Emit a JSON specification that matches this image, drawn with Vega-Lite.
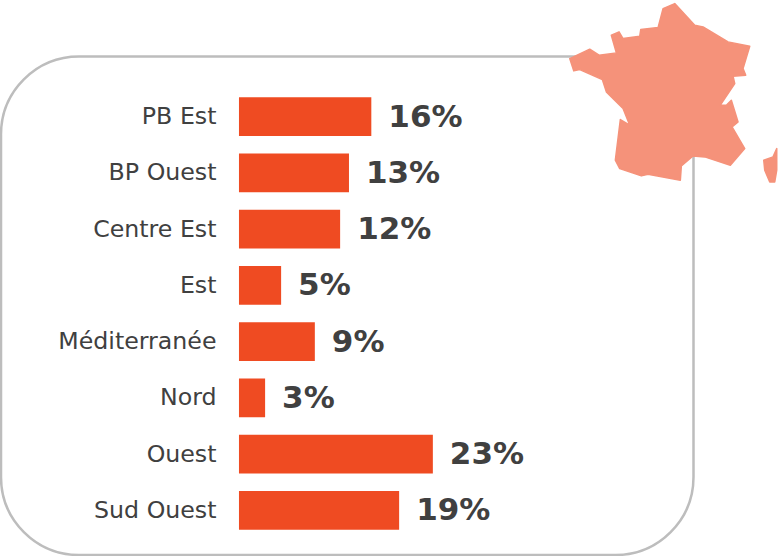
{
"$schema":"https://vega.github.io/schema/vega-lite/v6.json",
"autosize":"none",
"padding":{"left":1,"top":56.5,"right":87,"bottom":0.5},
"width":692.5,
"height":498.5,
"background":"white",
"view":{"stroke":"#bdbdbd","strokeWidth":2.5,"cornerRadius":78,"fill":null},
"config":{"font":"DejaVu Sans"},
"datasets":{
"regions":[
{"region":"PB Est","share":15.7,"label":"16%"},
{"region":"BP Ouest","share":13.05,"label":"13%"},
{"region":"Centre Est","share":12,"label":"12%"},
{"region":"Est","share":5,"label":"5%"},
{"region":"Méditerranée","share":9,"label":"9%"},
{"region":"Nord","share":3.1,"label":"3%"},
{"region":"Ouest","share":23,"label":"23%"},
{"region":"Sud Ouest","share":19,"label":"19%"}
],
"map":[{"name":"France","mx":50.9,"my":91.9}]
},
"layer":[
{"data":{"name":"regions"},"mark":{"type":"bar","color":"#EF4B22"},
"encoding":{
"x":{"field":"share","type":"quantitative","scale":{"domain":[-28.23,53.92],"nice":false,"zero":false},"axis":null},
"y":{"field":"region","type":"nominal","sort":null,"scale":{"type":"band","range":[32,482],"paddingInner":0.3125,"paddingOuter":0.156},
"axis":{"title":null,"orient":"left","offset":-238,"domain":false,"ticks":false,"grid":false,"labelPadding":23,"labelFontSize":23.7,"labelColor":"#404040","labelFont":"DejaVu Sans","labelOffset":0.5}}
}},
{"data":{"name":"regions"},"mark":{"type":"text","align":"left","baseline":"middle","dx":17,"dy":1,"fontSize":31,"fontWeight":"bold","color":"#404040"},
"encoding":{
"x":{"field":"share","type":"quantitative"},
"y":{"field":"region","type":"nominal","sort":null,"scale":{"type":"band","range":[32,482],"paddingInner":0.3125,"paddingOuter":0.156},"axis":null},
"text":{"field":"label"}
}},
{"data":{"name":"map"},"mark":{"type":"point","filled":true,"opacity":1,"color":"#F5927A","stroke":"#F5927A","strokeWidth":1.5,"strokeJoin":"round","size":40000,"shape":"M.067 -.933L.267 -.717L.35 -.7L.6 -.55L.817 -.507L.75 -.283L.777 -.217L.65 -.207L.667 -.133L.523 .083L.583 .083L.633 .033L.7 .25L.64 .3L.767 .517L.623 .683L.367 .6L.25 .59L.133 .69L.123 .833L-.2 .773L-.267 .79L-.483 .717L-.527 .633L-.477 .227L-.383 .283L-.45 .117L-.617 -.05L-.657 -.173L-.883 -.273L-.943 -.26L-.983 -.383L-.783 -.477L-.69 -.417L-.517 -.44L-.567 -.617L-.49 -.65L-.45 -.583L-.283 -.607L-.273 -.673L-.1 -.693L-.05 -.883ZM1.087 .517L1.05 .6L.957 .633L.967 .733L1.017 .85L1.067 .85L1.087 .733Z"},
"encoding":{
"x":{"field":"mx","type":"quantitative"},
"y":{"field":"my","type":"quantitative","scale":{"domain":[0,100],"nice":false,"zero":false},"axis":null}
}}
],
"resolve":{"scale":{"y":"independent"}}
}
